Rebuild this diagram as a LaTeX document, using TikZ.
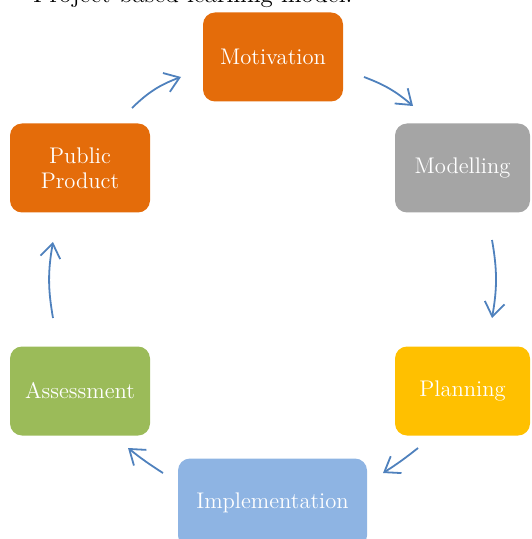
\documentclass[tikz,border=0pt]{standalone}
\usetikzlibrary{arrows.meta}

\definecolor{kreisorange}{HTML}{E46C0A}
\definecolor{kreisgrau}{HTML}{A5A5A5}
\definecolor{kreisgelb}{HTML}{FFC000}
\definecolor{kreisblau}{HTML}{8EB4E3}
\definecolor{kreisgruen}{HTML}{9BBB59}
\definecolor{pfeilblau}{HTML}{4F81BD}

\def\stufe#1#2#3#4#5#6{
	\node[box,fill=#4,minimum width=#5] (#1) at (#2,#3) {#6};
}

\begin{document}
\begin{tikzpicture}[x=0.5pt,y=-0.5pt,
	box/.style={rounded corners=6pt,minimum height=44.5pt,text=white,align=center,
		font=\fontsize{11.3}{12.5}\selectfont},
	pfeil/.style={-{Straight Barb[length=7pt,width=10pt]},draw=pfeilblau,line width=0.9pt}]
\useasboundingbox (0,0) rectangle (531,539);
\clip (0,0) rectangle (531,539);

\node[anchor=base west,font=\fontsize{12.5}{14}\selectfont] (titel) at (26,3) {Project-based learning model.};

\stufe{mot}{273}{57}{kreisorange}{70pt}{Motivation}
\stufe{mod}{462.5}{168}{kreisgrau}{67.5pt}{Modelling}
\stufe{plan}{462.5}{391}{kreisgelb}{67.5pt}{Planning}
\stufe{impl}{272.5}{503}{kreisblau}{94.5pt}{Implementation}
\stufe{ass}{80}{391}{kreisgruen}{70pt}{Assessment}
\stufe{pub}{80}{168}{kreisorange}{70pt}{Public\\Product}

% ends of the arrows
\coordinate (p1a) at (132,108); \coordinate (p1e) at (181,77);
\coordinate (p2a) at (364,77);  \coordinate (p2e) at (413,106);
\coordinate (p3a) at (492,240); \coordinate (p3e) at (492,318);
\coordinate (p4a) at (418,448); \coordinate (p4e) at (383,473);
\coordinate (p5a) at (163,473); \coordinate (p5e) at (128,448);
\coordinate (p6a) at (53,318);  \coordinate (p6e) at (53,242);

\foreach \n/\b in {1/12,2/10,3/10,4/3,5/3,6/10}{
	\draw[pfeil] (p\n a) to[bend left=\b] (p\n e);
}
\end{tikzpicture}
\end{document}
